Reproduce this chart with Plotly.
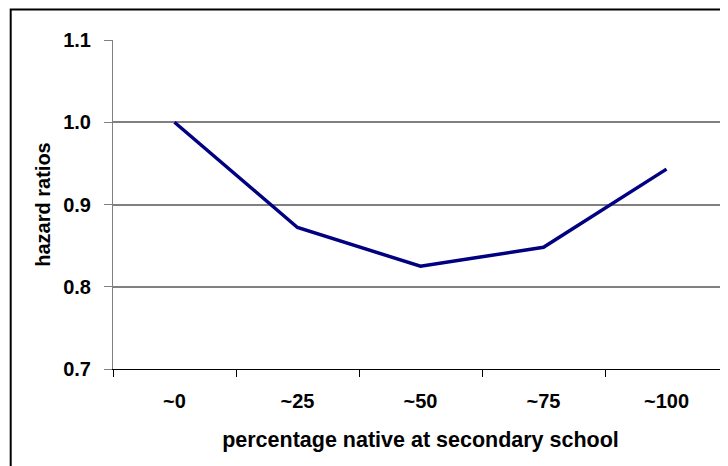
import plotly.graph_objects as go

categories = ["~0", "~25", "~50", "~75", "~100"]
hazard_ratios = [1.0, 0.872, 0.825, 0.848, 0.943]
y_ticks = [0.7, 0.8, 0.9, 1.0, 1.1]

# the page body has an 8px margin, so the figure is drawn 8px smaller
W, H = 720, 458
L, R, T, B = 105, 0, 32, 97
pw, ph = W - L - R, H - T - B

def px_x(p):
    return (p - L) / pw

def px_y(p):
    return (H - B - p) / ph

FAM = "Liberation Sans, Arial, sans-serif"

fig = go.Figure()
fig.add_trace(go.Scatter(
    x=categories, y=hazard_ratios, mode="lines",
    line=dict(color="#000080", width=3.5),
    showlegend=False, hoverinfo="skip",
))

fig.update_layout(
    width=W, height=H,
    margin=dict(l=L, r=R, t=T, b=B, pad=0),
    paper_bgcolor="white", plot_bgcolor="white",
    font=dict(family=FAM, color="black", size=15),
    xaxis=dict(
        type="category", tickson="boundaries", automargin=False,
        showline=True, linecolor="black", linewidth=1,
        ticks="outside", ticklen=7, tickcolor="black", tickwidth=1,
        showgrid=False, zeroline=False,
        tickfont=dict(size=20, family=FAM, color="black", weight="bold"),
        ticklabelstandoff=14,
        title=dict(text="<b>percentage native at secondary school</b>",
                   font=dict(size=21.5, family=FAM, color="black"), standoff=20),
        range=[-0.5, 4.5],
    ),
    yaxis=dict(
        range=[0.7, 1.1], tickvals=y_ticks, tickformat=".1f", automargin=False,
        showline=True, linecolor="#808080", linewidth=1,
        ticks="outside", ticklen=8, tickcolor="#808080", tickwidth=1,
        showgrid=True, gridcolor="#808080", gridwidth=1.5,
        zeroline=False,
        tickfont=dict(size=20, family=FAM, color="black", weight="bold"),
        ticklabelstandoff=9,
        title=dict(text="<b>hazard ratios</b>",
                   font=dict(size=20, family=FAM, color="black"), standoff=7),
    ),
    shapes=[dict(
        type="rect", xref="paper", yref="paper",
        x0=px_x(2.7), x1=px_x(760), y0=px_y(1.5), y1=px_y(500),
        line=dict(color="black", width=2), layer="above",
    )],
)

fig.write_html("out.html")
